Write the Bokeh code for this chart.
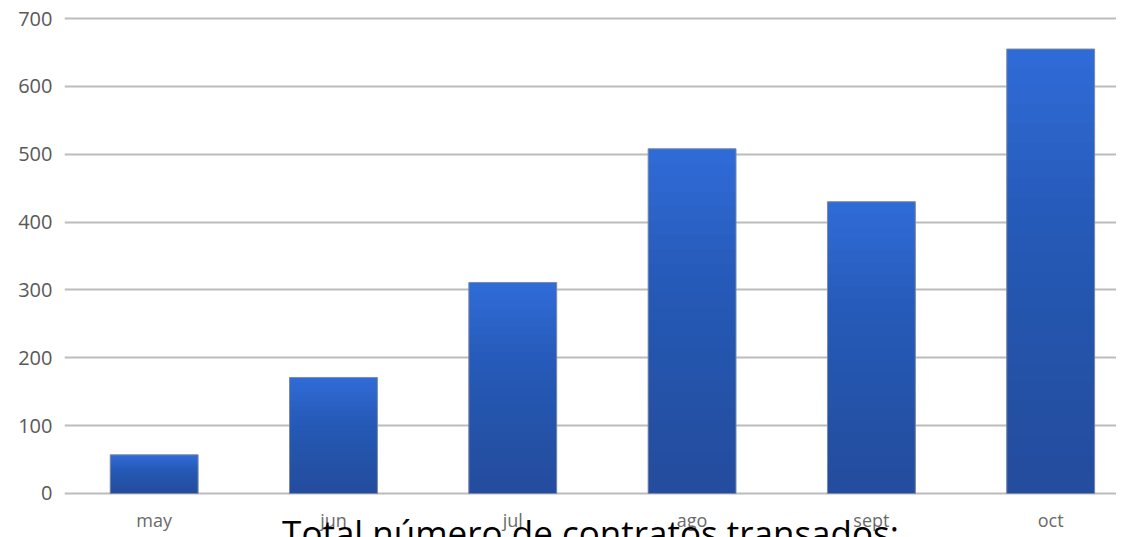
from bokeh.plotting import figure
from bokeh.models import Range1d, FixedTicker, Label
from bokeh.embed import file_html
from bokeh.resources import INLINE

# ---- data ----
months = ["may", "jun", "jul", "ago", "sept", "oct"]
contracts = [57, 171, 311, 508, 430, 655]
y_ticks = [0, 100, 200, 300, 400, 500, 600, 700]
title_text = "NÚMERO DE CONTRATOS MENSUALES"
footer_text = "Total número de contratos transados:"

x_pos = [i + 0.5 for i in range(len(months))]

p = figure(frame_width=1052, frame_height=479, output_backend="svg", toolbar_location=None,
           x_range=Range1d(0, 5.867), y_range=Range1d(-2.95, 702.95),
           min_border_left=64, min_border_right=0, min_border_top=16, min_border_bottom=34)
p.outline_line_color = None
p.background_fill_color = "white"
p.border_fill_color = "white"

# grid
p.xgrid.visible = False
p.ygrid.ticker = FixedTicker(ticks=y_ticks)
p.ygrid.grid_line_color = "#bcbcbc"
p.ygrid.grid_line_width = 2

# axes
p.yaxis.ticker = FixedTicker(ticks=y_ticks)
p.xaxis.ticker = FixedTicker(ticks=x_pos)
p.xaxis.major_label_overrides = {x: m for x, m in zip(x_pos, months)}
for ax in (p.xaxis[0], p.yaxis[0]):
    ax.axis_line_color = None
    ax.major_tick_line_color = None
    ax.minor_tick_line_color = None
    ax.major_tick_out = 0
    ax.major_tick_in = 0
    ax.major_label_text_font = "Open Sans"
    ax.major_label_text_color = "#595959"
p.yaxis.major_label_text_font_size = "20px"
p.yaxis.major_label_standoff = 12
p.xaxis.major_label_text_font_size = "18px"
p.xaxis.major_label_standoff = 12
p.xaxis.major_label_text_color = "#6a6a6a"

# footer text overlapping the month labels, drawn as the x axis label
p.xaxis.axis_label = footer_text
p.xaxis.axis_label_text_font = "Open Sans"
p.xaxis.axis_label_text_font_size = "35px"
p.xaxis.axis_label_text_font_style = "normal"
p.xaxis.axis_label_text_color = "#000000"
p.xaxis.axis_label_standoff = -26

# bars with vertical gradient (light top, darker bottom)
bw = 0.49
p.vbar(x=x_pos, top=contracts, bottom=0, width=bw, fill_color="#2f6bd7", line_color=None)
N = 24
for k in range(1, N):
    tops = [v * k / N for v in contracts]
    p.vbar(x=x_pos, top=tops, bottom=0, width=bw, fill_color="#1e4696",
           fill_alpha=0.053, line_color=None)
p.vbar(x=x_pos, top=contracts, bottom=0, width=bw, fill_color=None,
       line_color="#7d8aa3", line_width=1)

# cut-off title at top
p.add_layout(Label(x=3.552, y=739.8, text=title_text, text_align="center",
                   text_baseline="middle", text_font="Open Sans",
                   text_font_style="bold", text_font_size="36px", text_color="#7f7f7f"))

open("out.html", "w").write(file_html(p, INLINE))
